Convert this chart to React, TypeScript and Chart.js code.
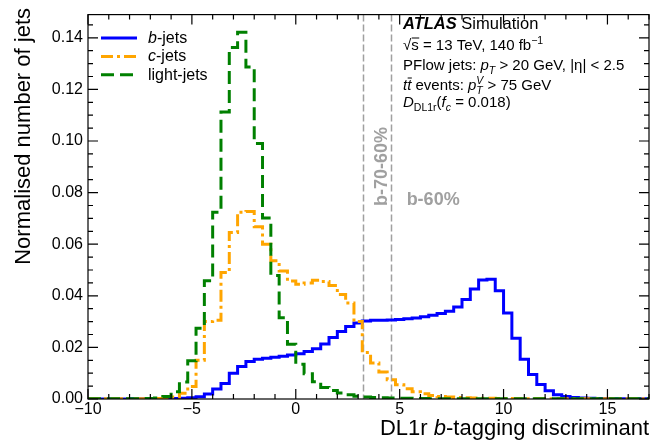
import React, { useEffect, useRef } from 'react';
import { Chart, registerables } from 'chart.js';

Chart.register(...registerables);

const FAMILY = '"Liberation Sans", Arial, Helvetica, sans-serif';

// Histogram binning (left edge of first bin, bin width)
const BIN_START = -10;
const BIN_WIDTH = 0.4;

// Normalised bin contents, one value per bin starting at BIN_START
const B_JETS = [
  0.0000, 0.0000, 0.0000, 0.0000, 0.0000, 0.0001, 0.0001, 0.0001, 0.0001, 0.0001,
  0.0002, 0.0003, 0.0005, 0.0009, 0.0019, 0.0039, 0.0060, 0.0100, 0.0126, 0.0145,
  0.0154, 0.0158, 0.0162, 0.0166, 0.0171, 0.0175, 0.0184, 0.0195, 0.0213, 0.0238,
  0.0262, 0.0281, 0.0295, 0.0302, 0.0305, 0.0305, 0.0306, 0.0308, 0.0311, 0.0314,
  0.0319, 0.0325, 0.0331, 0.0340, 0.0357, 0.0386, 0.0426, 0.0461, 0.0464, 0.0420,
  0.0333, 0.0235, 0.0154, 0.0095, 0.0056, 0.0032, 0.0016, 0.0010, 0.0006, 0.0004,
  0.0003, 0.0002, 0.0002, 0.0001, 0.0001, 0.0001, 0.0001, 0.0001,
];

const C_JETS = [
  0.0001, 0.0001, 0.0001, 0.0001, 0.0001, 0.0001, 0.0001, 0.0001, 0.0002, 0.0003,
  0.0008, 0.0022, 0.0048, 0.0150, 0.0300, 0.0305, 0.0490, 0.0645, 0.0724, 0.0727,
  0.0668, 0.0600, 0.0536, 0.0496, 0.0457, 0.0445, 0.0450, 0.0460, 0.0455, 0.0440,
  0.0405, 0.0372, 0.0300, 0.0180, 0.0140, 0.0105, 0.0075, 0.0055, 0.0040, 0.0028,
  0.0020, 0.0014, 0.0010, 0.0008, 0.0006, 0.0005, 0.0004, 0.0003, 0.0003, 0.0002,
  0.0002, 0.0001, 0.0001, 0.0001, 0.0001, 0.0001, 0.0001, 0.0001, 0.0001, 0.0001,
  0.0001, 0.0001, 0.0001, 0.0001, 0.0001, 0.0001, 0.0001, 0.0001,
];

const LIGHT_JETS = [
  0.0001, 0.0001, 0.0001, 0.0001, 0.0001, 0.0001, 0.0001, 0.0002, 0.0004, 0.0010,
  0.0028, 0.0066, 0.0148, 0.0274, 0.0458, 0.0724, 0.1112, 0.1362, 0.1422, 0.1287,
  0.0990, 0.0702, 0.0479, 0.0315, 0.0212, 0.0135, 0.0098, 0.0067, 0.0045, 0.0033,
  0.0023, 0.0016, 0.0011, 0.0008, 0.0006, 0.0005, 0.0004, 0.0003, 0.0003, 0.0002,
  0.0002, 0.0001, 0.0001, 0.0001, 0.0001, 0.0001, 0.0001, 0.0001, 0.0001, 0.0001,
  0.0001, 0.0001, 0.0001, 0.0001, 0.0001, 0.0001, 0.0001, 0.0001, 0.0001, 0.0001,
  0.0001, 0.0001, 0.0001, 0.0001, 0.0001, 0.0001, 0.0001, 0.0001,
];

// Axes
const X_MIN = -10;
const X_MAX = 17;
const Y_MIN = 0;
const Y_MAX = 0.149;
const X_TICKS = [-10, -5, 0, 5, 10, 15];
const Y_TICKS = [0, 0.02, 0.04, 0.06, 0.08, 0.1, 0.12, 0.14];
const X_MINOR = 1;
const Y_MINOR = 0.005;

// Working point cuts
const WP_CUTS = [3.245, 4.565];
const WP_LABELS = ['b-70-60%', 'b-60%'];

type Seg = { t: string; i?: boolean; b?: boolean; sub?: boolean; sup?: boolean; bar?: boolean; supStack?: string };

const LEGEND_LABELS: Seg[][] = [
  [{ t: 'b', i: true }, { t: '-jets' }],
  [{ t: 'c', i: true }, { t: '-jets' }],
  [{ t: 'light-jets' }],
];

const INFO_LINES: Seg[][] = [
  [{ t: 'ATLAS', b: true, i: true }, { t: ' Simulation' }],
  [{ t: '√' }, { t: 's', bar: true }, { t: ' = 13 TeV, 140 fb' }, { t: '−1', sup: true }],
  [{ t: 'PFlow jets: ' }, { t: 'p', i: true }, { t: 'T', i: true, sub: true }, { t: ' > 20 GeV, |η| < 2.5' }],
  [{ t: 't', i: true }, { t: 't', i: true, bar: true }, { t: ' events: ' }, { t: 'p', i: true }, { t: 'T', i: true, sub: true, supStack: 'V' }, { t: ' > 75 GeV' }],
  [{ t: 'D', i: true }, { t: 'DL1r', sub: true }, { t: '(' }, { t: 'f', i: true }, { t: 'c', i: true, sub: true }, { t: ' = 0.018)' }],
];

const X_TITLE: Seg[] = [{ t: 'DL1r ' }, { t: 'b', i: true }, { t: '-tagging discriminant' }];
const Y_TITLE = 'Normalised number of jets';

function toSteps(values: number[]) {
  const pts = values.map((v, i) => ({ x: BIN_START + i * BIN_WIDTH, y: v }));
  pts.push({ x: BIN_START + values.length * BIN_WIDTH, y: values[values.length - 1] });
  return pts;
}

function segFont(s: Seg, size: number) {
  const sz = s.sub || s.sup ? size * 0.7 : size;
  return `${s.i ? 'italic ' : ''}${s.b ? 'bold ' : ''}${sz}px ${FAMILY}`;
}

function richWidth(ctx: CanvasRenderingContext2D, segs: Seg[], size: number) {
  let w = 0;
  for (const s of segs) {
    ctx.font = segFont(s, size);
    let sw = ctx.measureText(s.t).width;
    if (s.supStack) sw = Math.max(sw, ctx.measureText(s.supStack).width);
    w += sw;
  }
  return w;
}

function drawRich(ctx: CanvasRenderingContext2D, segs: Seg[], x: number, y: number, size: number) {
  let cx = x;
  ctx.textBaseline = 'alphabetic';
  ctx.textAlign = 'left';
  for (const s of segs) {
    ctx.font = segFont(s, size);
    const dy = s.sub ? size * 0.25 : s.sup ? -size * 0.42 : 0;
    ctx.fillText(s.t, cx, y + dy);
    const w0 = ctx.measureText(s.t).width;
    let w = w0;
    if (s.supStack) {
      ctx.fillText(s.supStack, cx, y - size * 0.42);
      w = Math.max(w, ctx.measureText(s.supStack).width);
    }
    if (s.bar) {
      ctx.save();
      ctx.lineWidth = 1;
      ctx.strokeStyle = '#000';
      ctx.beginPath();
      const by = y - size * 0.8;
      ctx.moveTo(cx + 0.5, by);
      ctx.lineTo(cx + w0 + 0.5, by);
      ctx.stroke();
      ctx.restore();
    }
    cx += w;
  }
}

const overlay = {
  id: 'atlasOverlay',
  beforeDatasetsDraw(chart: any) {
    const { ctx, chartArea: a, scales } = chart;
    const x = scales.x;
    ctx.save();
    ctx.strokeStyle = '#a0a0a0';
    ctx.lineWidth = 1.5;
    ctx.setLineDash([7, 3]);
    for (const c of WP_CUTS) {
      const px = Math.round(x.getPixelForValue(c)) + 0.5;
      ctx.beginPath();
      ctx.moveTo(px, a.top);
      ctx.lineTo(px, a.bottom);
      ctx.stroke();
    }
    ctx.restore();
  },
  afterDraw(chart: any) {
    const { ctx, chartArea: a, scales } = chart;
    const x = scales.x;
    const y = scales.y;
    ctx.save();

    // frame
    ctx.strokeStyle = '#000';
    ctx.lineWidth = 1.2;
    ctx.setLineDash([]);
    ctx.strokeRect(a.left, a.top, a.right - a.left, a.bottom - a.top);

    // x ticks (inward, bottom and top)
    for (let v = Math.ceil(X_MIN); v <= X_MAX; v += X_MINOR) {
      const px = x.getPixelForValue(v);
      const len = X_TICKS.includes(v) ? 10 : 5;
      ctx.beginPath();
      ctx.moveTo(px, a.bottom);
      ctx.lineTo(px, a.bottom - len);
      ctx.moveTo(px, a.top);
      ctx.lineTo(px, a.top + len);
      ctx.stroke();
    }
    // y ticks (inward, left and right)
    for (let k = 0; k * Y_MINOR <= Y_MAX + 1e-9; k++) {
      const py = y.getPixelForValue(k * Y_MINOR);
      const len = k % 4 === 0 ? 10 : 5;
      ctx.beginPath();
      ctx.moveTo(a.left, py);
      ctx.lineTo(a.left + len, py);
      ctx.moveTo(a.right, py);
      ctx.lineTo(a.right - len, py);
      ctx.stroke();
    }

    // legend
    const dsList = chart.data.datasets;
    dsList.forEach((ds: any, row: number) => {
      const ly = a.top + 23.5 + row * 18.3;
      ctx.save();
      ctx.strokeStyle = ds.borderColor;
      ctx.lineWidth = ds.borderWidth;
      ctx.setLineDash(ds.borderDash || []);
      ctx.beginPath();
      ctx.moveTo(a.left + 13, ly);
      ctx.lineTo(a.left + 49, ly);
      ctx.stroke();
      ctx.restore();
      ctx.fillStyle = '#000';
      drawRich(ctx, LEGEND_LABELS[row], a.left + 60, ly + 5, 16);
    });

    // info text
    ctx.fillStyle = '#000';
    const infoX = 403;
    const infoY = [29, 50, 70, 90, 107];
    INFO_LINES.forEach((segs, i) => drawRich(ctx, segs, infoX, infoY[i], i === 0 ? 16.5 : 15));

    // working point labels
    ctx.fillStyle = '#a0a0a0';
    ctx.font = `bold 18px ${FAMILY}`;
    const c2 = x.getPixelForValue(WP_CUTS[1]);
    ctx.save();
    ctx.translate(c2 - 9, 206);
    ctx.rotate(-Math.PI / 2);
    ctx.textAlign = 'left';
    ctx.textBaseline = 'middle';
    ctx.fillText(WP_LABELS[0], 0, 0);
    ctx.restore();
    ctx.textAlign = 'left';
    ctx.textBaseline = 'alphabetic';
    ctx.fillText(WP_LABELS[1], c2 + 16, 205);

    // axis titles
    ctx.fillStyle = '#000';
    const tw = richWidth(ctx, X_TITLE, 22);
    drawRich(ctx, X_TITLE, a.right - tw, 435, 22);

    ctx.save();
    ctx.translate(30, 8);
    ctx.rotate(-Math.PI / 2);
    ctx.font = `22px ${FAMILY}`;
    ctx.textAlign = 'right';
    ctx.textBaseline = 'alphabetic';
    ctx.fillText(Y_TITLE, 0, 0);
    ctx.restore();

    ctx.restore();
  },
};

function fmtX(v: number) {
  return v < 0 ? '\u2212' + Math.abs(v) : String(v);
}

export default function App() {
  const ref = useRef<HTMLCanvasElement>(null);
  useEffect(() => {
    const canvas = ref.current;
    if (!canvas) return;
    const common = { borderWidth: 3, stepped: 'before', fill: false, pointRadius: 0, borderCapStyle: 'butt', borderJoinStyle: 'miter' };
    const chart = new Chart(canvas, {
      type: 'line',
      data: {
        datasets: [
          { ...common, label: 'b-jets', data: toSteps(B_JETS), borderColor: '#0000ff', borderDash: [], order: 2 },
          { ...common, label: 'c-jets', data: toSteps(C_JETS), borderColor: '#ffa500', borderDash: [12, 4, 3, 4], order: 1 },
          { ...common, label: 'light-jets', data: toSteps(LIGHT_JETS), borderColor: '#008000', borderDash: [13, 6], order: 0 },
        ] as any,
      },
      options: {
        animation: false,
        responsive: false,
        devicePixelRatio: 1,
        layout: { padding: { top: 6, right: 3, left: 0, bottom: 0 } },
        plugins: { legend: { display: false }, tooltip: { enabled: false }, title: { display: false } },
        scales: {
          x: {
            type: 'linear',
            min: X_MIN,
            max: X_MAX,
            grid: { display: false, drawTicks: false },
            border: { display: false },
            afterBuildTicks: (s: any) => { s.ticks = X_TICKS.map((v) => ({ value: v })); },
            afterFit: (s: any) => { s.height = 43; },
            ticks: { font: { family: FAMILY, size: 16 }, color: '#000', padding: 1, maxRotation: 0, autoSkip: false, callback: (v: any) => fmtX(Number(v)) },
          },
          y: {
            type: 'linear',
            min: Y_MIN,
            max: Y_MAX,
            grid: { display: false, drawTicks: false },
            border: { display: false },
            afterBuildTicks: (s: any) => { s.ticks = Y_TICKS.map((v) => ({ value: v })); },
            afterFit: (s: any) => { s.width = 88; },
            ticks: { font: { family: FAMILY, size: 16 }, color: '#000', padding: 5, autoSkip: false, callback: (v: any) => Number(v).toFixed(2) },
          },
        },
      } as any,
      plugins: [overlay],
    });
    return () => chart.destroy();
  }, []);
  return (
    <div style={{ position: 'fixed', left: 0, top: 0, width: 652, height: 442, background: '#fff' }}>
      <canvas ref={ref} width={652} height={442} style={{ display: 'block', width: 652, height: 442 }} />
    </div>
  );
}
